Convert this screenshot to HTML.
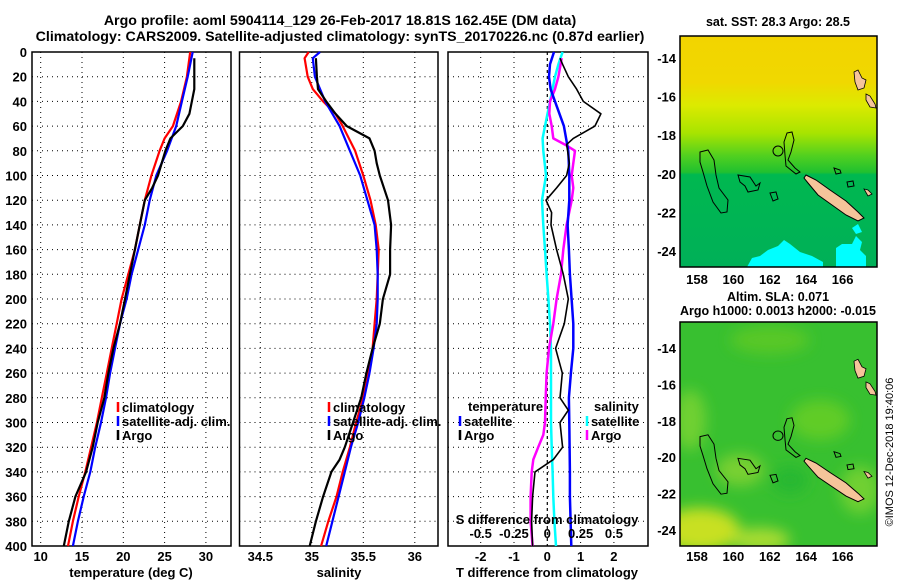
<!DOCTYPE html>
<html><head><meta charset="utf-8">
<style>
html,body{margin:0;padding:0;background:#fff;}
svg{display:block;font-family:"Liberation Sans",Arial,sans-serif;font-weight:bold;}
</style></head>
<body>
<svg id="fig" width="900" height="580" viewBox="0 0 900 580" xmlns="http://www.w3.org/2000/svg">
<defs>
  <linearGradient id="sstGrad" x1="0" y1="0" x2="0" y2="1">
    <stop offset="0" stop-color="#f2d400"/>
    <stop offset="0.2" stop-color="#f0d800"/>
    <stop offset="0.3" stop-color="#dcea00"/>
    <stop offset="0.42" stop-color="#a8e400"/>
    <stop offset="0.52" stop-color="#50d020"/>
    <stop offset="0.59" stop-color="#20c030"/>
    <stop offset="0.6" stop-color="#00b850"/>
    <stop offset="1" stop-color="#00b058"/>
  </linearGradient>
  <filter id="blur6"><feGaussianBlur stdDeviation="7"/></filter>
  <clipPath id="clip1"><rect x="680" y="36" width="197" height="231"/></clipPath>
  <clipPath id="clip2"><rect x="680" y="322" width="197" height="224"/></clipPath>
  <g id="mapOverlay">
    <path d="M700,152 L708,150 L714,160 L716,175 L719,188 L728,200 L727,212 L721,213 L713,202 L707,186 L703,172 L700,162 Z" fill="none" stroke="#000" stroke-width="1"/>
    <path d="M738,175 L750,177 L756,186 L760,183 L758,190 L748,192 L745,186 L740,182 Z" fill="none" stroke="#000" stroke-width="1"/>
    <path d="M770,193 L776,192 L778,199 L773,201 Z" fill="none" stroke="#000" stroke-width="1"/>
    <path d="M787,133 L792,132 L794,140 L791,152 L788,160 L795,168 L800,172 L796,174 L786,166 L785,155 L784,142 Z" fill="none" stroke="#000" stroke-width="1"/>
    <path d="M834,168 L840,170 L841,173 L836,174 Z" fill="none" stroke="#000" stroke-width="1"/>
    <path d="M847,182 L853,181 L854,186 L848,187 Z" fill="none" stroke="#000" stroke-width="1"/>
    <path d="M806,175 L816,180 L830,190 L846,201 L858,212 L864,218 L858,221 L846,215 L832,205 L818,195 L808,183 L804,178 Z" fill="#f5c49a" stroke="#000" stroke-width="1"/>
    <path d="M854,72 L858,70 L862,78 L866,80 L864,88 L858,90 L855,82 Z" fill="#f5c49a" stroke="#000" stroke-width="0.8"/>
    <path d="M866,94 L870,96 L875,104 L876,108 L870,107 L866,100 Z" fill="#f5c49a" stroke="#000" stroke-width="0.8"/>
    <path d="M864,189 L868,190 L872,194 L868,196 Z" fill="#f5c49a" stroke="#000" stroke-width="0.8"/>
    <circle cx="778" cy="151" r="5" fill="none" stroke="#000" stroke-width="1"/>
  </g>
</defs>

<!-- Titles -->
<text x="340" y="25" font-size="14.2" text-anchor="middle">Argo profile: aoml 5904114_129 26-Feb-2017 18.81S 162.45E (DM data)</text>
<text x="340" y="41" font-size="14.2" text-anchor="middle">Climatology: CARS2009. Satellite-adjusted climatology: synTS_20170226.nc (0.87d earlier)</text>

<g id="panels"></g>

<!-- Map 1 -->
<g>
  <text x="778" y="26" font-size="12.5" text-anchor="middle">sat. SST: 28.3 Argo: 28.5</text>
  <g clip-path="url(#clip1)">
    <rect x="680" y="36" width="197" height="231" fill="url(#sstGrad)"/>
    <g fill="#00ffff">
      <path d="M747,267 L752,258 L760,256 L768,250 L778,246 L784,240 L790,244 L800,252 L812,256 L823,262 L823,267 Z"/>
      <path d="M836,267 L836,248 L842,244 L852,244 L856,236 L862,242 L860,250 L866,256 L866,267 Z"/>
      <path d="M852,228 L858,224 L862,232 L856,234 Z"/>
    </g>
    <use href="#mapOverlay"/>
  </g>
  <rect x="680" y="36" width="197" height="231" fill="none" stroke="#000" stroke-width="1.5"/>
</g>

<!-- Map 2 -->
<g>
  <text x="778" y="301" font-size="12.5" text-anchor="middle">Altim. SLA: 0.071</text>
  <text x="778" y="315" font-size="12.5" text-anchor="middle">Argo h1000: 0.0013 h2000: -0.015</text>
  <g clip-path="url(#clip2)">
    <rect x="680" y="322" width="197" height="224" fill="#38c030"/>
    <g filter="url(#blur6)">
      <ellipse cx="700" cy="530" rx="40" ry="22" fill="#c8e020"/>
      <ellipse cx="760" cy="540" rx="30" ry="12" fill="#a8dc30"/>
      <ellipse cx="690" cy="420" rx="16" ry="30" fill="#70d030"/>
      <ellipse cx="770" cy="340" rx="40" ry="14" fill="#58c828"/>
      <ellipse cx="820" cy="420" rx="30" ry="20" fill="#60cc28"/>
      <ellipse cx="740" cy="470" rx="24" ry="16" fill="#78d030"/>
      <ellipse cx="860" cy="490" rx="20" ry="24" fill="#70d030"/>
      <ellipse cx="790" cy="480" rx="18" ry="14" fill="#28b830"/>
    </g>
    <use href="#mapOverlay" transform="matrix(1 0 0 0.943 0 293.3)"/>
  </g>
  <rect x="680" y="322" width="197" height="224" fill="none" stroke="#000" stroke-width="1.5"/>
</g>

<text transform="translate(893,452) rotate(-90)" font-size="11" font-weight="normal" text-anchor="middle">©IMOS 12-Dec-2018 19:40:06</text>

<script>
// ---------- Panel 1: temperature ----------
const tempClimDepth = [0,20,40,60,70,80,100,120,140,160,180,200,220,240,260,280,300,320,340,360,380,400];
const tempClim = [28.1,27.7,27.0,26.0,25.0,24.4,23.4,22.6,22.0,21.4,20.6,19.8,19.2,18.6,18.0,17.4,16.8,16.1,15.4,14.6,13.9,13.3];
const tempSatDepth = [0,20,40,60,80,100,120,140,160,180,200,220,240,260,280,300,320,340,360,380,400];
const tempSat = [28.4,27.8,27.1,26.4,25.3,24.0,23.2,22.6,21.8,21.0,20.4,19.6,19.0,18.4,17.9,17.3,16.6,16.0,15.2,14.5,13.9];
const tempArgoDepth = [5,30,50,60,70,80,100,110,120,140,160,180,200,220,240,260,280,300,320,340,360,380,400];
const tempArgo = [28.6,28.6,28.0,27.2,25.7,25.1,24.2,23.5,22.6,22.0,21.4,20.8,20.2,19.6,18.8,18.2,17.7,16.9,16.3,15.5,14.2,13.4,12.8];
const tempTicks = [10,15,20,25,30];

// ---------- Panel 2: salinity ----------
const salClimDepth = [0,5,20,30,40,50,60,80,100,120,140,160,180,200,220,240,260,280,300,320,340,360,380,400];
const salClim = [34.97,34.93,34.96,35.01,35.11,35.23,35.30,35.42,35.50,35.57,35.62,35.65,35.64,35.63,35.61,35.59,35.55,35.50,35.43,35.37,35.30,35.24,35.16,35.09];
const salSatDepth = [0,5,20,40,60,80,100,120,140,160,180,200,220,240,260,280,300,320,340,360,380,400];
const salSat = [35.08,35.01,35.03,35.13,35.27,35.37,35.47,35.54,35.61,35.63,35.64,35.64,35.63,35.60,35.56,35.51,35.45,35.38,35.32,35.26,35.20,35.14];
const salArgoDepth = [5,20,30,40,50,60,70,80,90,100,120,140,160,180,200,220,240,260,280,300,320,330,340,360,380,400];
const salArgo = [35.04,35.05,35.06,35.14,35.23,35.34,35.56,35.61,35.63,35.66,35.74,35.77,35.76,35.76,35.69,35.66,35.59,35.53,35.48,35.40,35.32,35.27,35.19,35.11,35.04,34.98];
const salTicks = [34.5,35,35.5,36];

// ---------- Panel 3: differences ----------
const dTSatDepth = [0,10,20,30,40,60,80,100,120,140,160,180,200,220,240,260,280,300,320,340,360,380,400];
const dTSat = [0.2,0.08,0.05,0.1,0.23,0.5,0.63,0.66,0.66,0.61,0.65,0.68,0.73,0.78,0.78,0.71,0.65,0.66,0.67,0.68,0.68,0.7,0.72];
const dTArgoDepth = [5,10,20,30,40,50,60,70,75,80,90,100,110,120,130,140,160,180,200,220,240,260,280,290,300,320,330,340,360,380,400];
const dTArgo = [0.38,0.46,0.63,0.88,1.08,1.61,1.43,0.78,0.58,0.61,0.66,0.58,0.28,-0.04,0.13,0.11,0.28,0.48,0.63,0.51,0.25,0.45,0.38,0.63,0.38,0.46,0.18,-0.37,-0.44,-0.47,-0.44];
const dSSatDepth = [0,10,20,40,60,70,80,100,120,140,160,180,200,220,240,260,280,300,320,340,360,380,400];
const dSSat = [0.115,0.083,0.058,0.02,-0.017,-0.035,-0.03,-0.01,-0.04,-0.03,-0.017,-0.005,0.008,0.02,0.028,0.028,0.028,0.028,0.033,0.04,0.045,0.053,0.065];
const dSArgoDepth = [5,20,30,40,50,60,70,75,80,90,100,110,120,140,160,180,200,220,240,260,280,300,310,320,330,340,360,380,400];
const dSArgo = [0.108,0.083,0.058,0.02,0.015,0.033,0.045,0.133,0.208,0.195,0.183,0.195,0.183,0.145,0.12,0.103,0.07,0.045,0.013,-0.005,-0.012,-0.017,-0.03,-0.068,-0.105,-0.117,-0.125,-0.125,-0.11];
const dTTicks = [-2,-1,0,1,2];
const dSTicks = [-0.5,-0.25,0,0.25,0.5];
const dSTickLabels = ['-0.5','-0.25','0','0.25','0.5'];

const depthTicks = [0,20,40,60,80,100,120,140,160,180,200,220,240,260,280,300,320,340,360,380,400];
const mapLon = [158,160,162,164,166];
const mapLat = [-14,-16,-18,-20,-22,-24];

const NS = 'http://www.w3.org/2000/svg';
const root = document.getElementById('panels');
const FS = 13;
function mk(tag, attrs, parent){
  const e = document.createElementNS(NS, tag);
  for (const k in attrs) e.setAttribute(k, attrs[k]);
  (parent||root).appendChild(e);
  return e;
}
const ys = d => 52 + d*1.235;
const xT = v => 40.7 + (v-10)*8.26;
const xS = v => 260.3 + (v-34.5)*103;
const xdT = v => 547.3 + v*33.3;
const xdS = v => 547.3 + v*133.3;

function gridBox(x0, x1, vx, name){
  const g = mk('g', {});
  
  
  depthTicks.forEach(d => {
    if (d===0||d===400) return;
    const l = mk('line', {x1:x0, x2:x1, y1:ys(d), y2:ys(d), stroke:'#000', 'stroke-width':1, 'stroke-dasharray':'1,4'}, g);
    
    
  });
  vx.forEach(x => {
    const l = mk('line', {x1:x, x2:x, y1:ys(0), y2:ys(400), stroke:'#000', 'stroke-width':1, 'stroke-dasharray':'1,4'}, g);
    
    
  });
  const r = mk('rect', {x:x0, y:ys(0), width:x1-x0, height:ys(400)-ys(0), fill:'none', stroke:'#000', 'stroke-width':1.5}, g);
  
  
  return g;
}
function line(xs, vals, depths, color, w, name){
  const pts = vals.map((v,i) => xs(v).toFixed(1)+','+ys(depths[i]).toFixed(1)).join(' ');
  const p = mk('polyline', {points:pts, fill:'none', stroke:color, 'stroke-width':w, 'stroke-linejoin':'round'});
  
  
}
function txt(x, y, s, opts, name){
  const t = mk('text', Object.assign({x:x, y:y, 'font-size':FS}, opts||{}));
  t.textContent = s;
  
  
  return t;
}
function legendEntry(x, y, color, label, name){
  const b = mk('line', {x1:x, x2:x, y1:y-10, y2:y, stroke:color, 'stroke-width':2.5});
  
  
  txt(x+4, y, label, {}, name);
}

// Panel 1
gridBox(32, 231, tempTicks.map(xT), 'temperature-panel');
line(xT, tempClim, tempClimDepth, '#ff0000', 2.2, 'temp-climatology-line');
line(xT, tempSat, tempSatDepth, '#0000ff', 2.2, 'temp-satellite-line');
line(xT, tempArgo, tempArgoDepth, '#000000', 2.2, 'temp-argo-line');
tempTicks.forEach(v => txt(xT(v), 561, String(v), {'text-anchor':'middle'}, 'temp-x-tick'));
depthTicks.forEach(d => txt(27, ys(d)+5, String(d), {'text-anchor':'end'}, 'depth-tick'));
txt(131, 577, 'temperature (deg C)', {'text-anchor':'middle'}, 'temp-x-axis-title');
legendEntry(118, 412, '#ff0000', 'climatology', 'legend-climatology');
legendEntry(118, 426, '#0000ff', 'satellite-adj. clim.', 'legend-satellite');
legendEntry(118, 440, '#000000', 'Argo', 'legend-argo');

// Panel 2
gridBox(239.5, 438, salTicks.map(xS), 'salinity-panel');
line(xS, salClim, salClimDepth, '#ff0000', 2.2, 'sal-climatology-line');
line(xS, salSat, salSatDepth, '#0000ff', 2.2, 'sal-satellite-line');
line(xS, salArgo, salArgoDepth, '#000000', 2.2, 'sal-argo-line');
salTicks.forEach(v => txt(xS(v), 561, String(v), {'text-anchor':'middle'}, 'sal-x-tick'));
txt(339, 577, 'salinity', {'text-anchor':'middle'}, 'sal-x-axis-title');
legendEntry(329, 412, '#ff0000', 'climatology', 'legend-sal-climatology');
legendEntry(329, 426, '#0000ff', 'satellite-adj. clim.', 'legend-sal-satellite');
legendEntry(329, 440, '#000000', 'Argo', 'legend-sal-argo');

// Panel 3
gridBox(448, 648, [xdT(-2), xdT(-1), xdT(1), xdT(2)], 'difference-panel');
const zl = mk('line', {x1:xdT(0), x2:xdT(0), y1:ys(0), y2:ys(400), stroke:'#000', 'stroke-width':1.2, 'stroke-dasharray':'3,3'});


line(xdS, dSSat, dSSatDepth, '#00ffff', 2.5, 'sdiff-satellite-line');
line(xdS, dSArgo, dSArgoDepth, '#ff00ff', 2.5, 'sdiff-argo-line');
line(xdT, dTSat, dTSatDepth, '#0000ff', 2.5, 'tdiff-satellite-line');
line(xdT, dTArgo, dTArgoDepth, '#000000', 1.6, 'tdiff-argo-line');
dTTicks.forEach(v => txt(xdT(v), 561, String(v), {'text-anchor':'middle'}, 'tdiff-x-tick'));
dSTicks.forEach((v,i) => txt(xdS(v), 538, dSTickLabels[i], {'text-anchor':'middle'}, 'sdiff-tick'));
txt(547, 524, 'S difference from climatology', {'text-anchor':'middle'}, 'sdiff-axis-title');
txt(547, 577, 'T difference from climatology', {'text-anchor':'middle'}, 'tdiff-x-axis-title');
txt(468, 411, 'temperature', {}, 'legend-temperature-heading');
legendEntry(460, 426, '#0000ff', 'satellite', 'legend-t-satellite');
legendEntry(460, 440, '#000000', 'Argo', 'legend-t-argo');
txt(594, 411, 'salinity', {}, 'legend-salinity-heading');
legendEntry(587, 426, '#00ffff', 'satellite', 'legend-s-satellite');
legendEntry(587, 440, '#ff00ff', 'Argo', 'legend-s-argo');

// Map axes
const lonX = lon => 697 + (lon-158)*18.2;
const lat1 = lat => 58 + (-14-lat)*19.3;
const lat2 = lat => 348 + (-14-lat)*18.2;
mapLon.forEach(lon => {
  txt(lonX(lon), 284, String(lon), {'text-anchor':'middle'}, 'map1-lon-tick');
  txt(lonX(lon), 561, String(lon), {'text-anchor':'middle'}, 'map2-lon-tick');
  const a = mk('line', {x1:lonX(lon), x2:lonX(lon), y1:267, y2:263, stroke:'#000'});
  
  
  const b = mk('line', {x1:lonX(lon), x2:lonX(lon), y1:546, y2:542, stroke:'#000'});
  
  
});
mapLat.forEach(lat => {
  txt(676, lat1(lat)+5, String(lat), {'text-anchor':'end'}, 'map1-lat-tick');
  txt(676, lat2(lat)+5, String(lat), {'text-anchor':'end'}, 'map2-lat-tick');
  const a = mk('line', {x1:877, x2:873, y1:lat1(lat), y2:lat1(lat), stroke:'#000'});
  
  
  const b = mk('line', {x1:877, x2:873, y1:lat2(lat), y2:lat2(lat), stroke:'#000'});
  
  
});
</script>
</svg>
</body></html>
